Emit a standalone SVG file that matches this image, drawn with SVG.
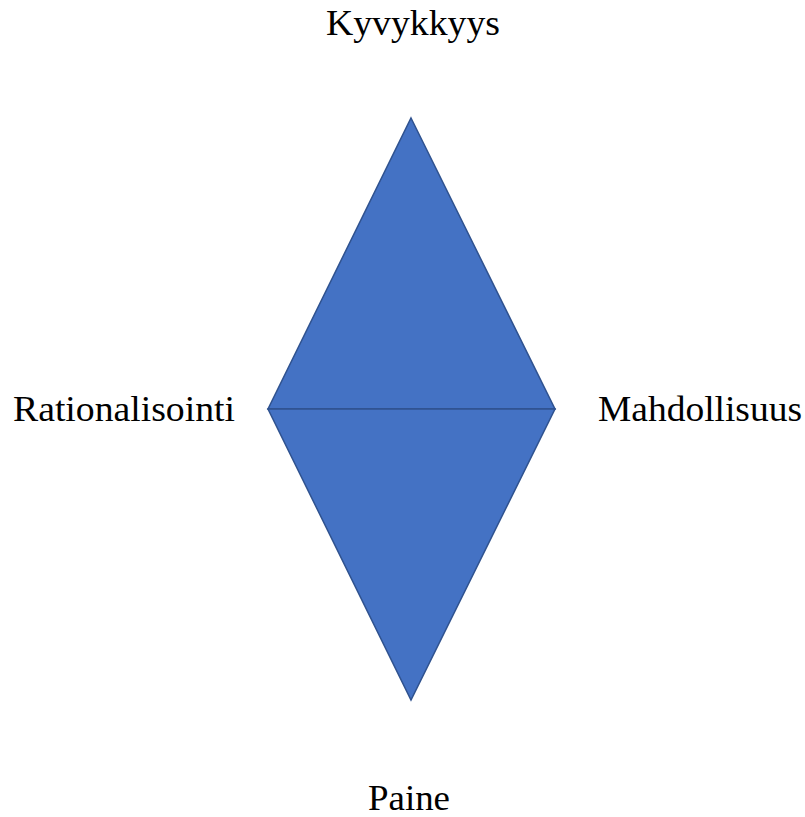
<svg xmlns="http://www.w3.org/2000/svg" width="805" height="817" viewBox="0 0 805 817">
<style>
.tri{fill:#4472C4;stroke:#2F528F;stroke-width:1.5;stroke-linejoin:miter}
.lbl{font-family:"Liberation Serif","Times New Roman",serif;font-size:35px;fill:#000}
</style>
<rect width="805" height="817" fill="#fff"/>
<g id="top-triangle"><polygon class="tri" points="411,118 555,409 268,409"/></g>
<g id="bottom-triangle"><polygon class="tri" points="268,409 555,409 411,700"/></g>
<g id="label-kyvykkyys"><text class="lbl" x="326" y="35" textLength="174" lengthAdjust="spacingAndGlyphs">Kyvykkyys</text></g>
<g id="label-rationalisointi"><text class="lbl" x="13" y="421" textLength="222" lengthAdjust="spacingAndGlyphs">Rationalisointi</text></g>
<g id="label-mahdollisuus"><text class="lbl" x="598" y="421" textLength="204" lengthAdjust="spacingAndGlyphs">Mahdollisuus</text></g>
<g id="label-paine"><text class="lbl" x="368" y="810" textLength="82" lengthAdjust="spacingAndGlyphs">Paine</text></g>
</svg>
